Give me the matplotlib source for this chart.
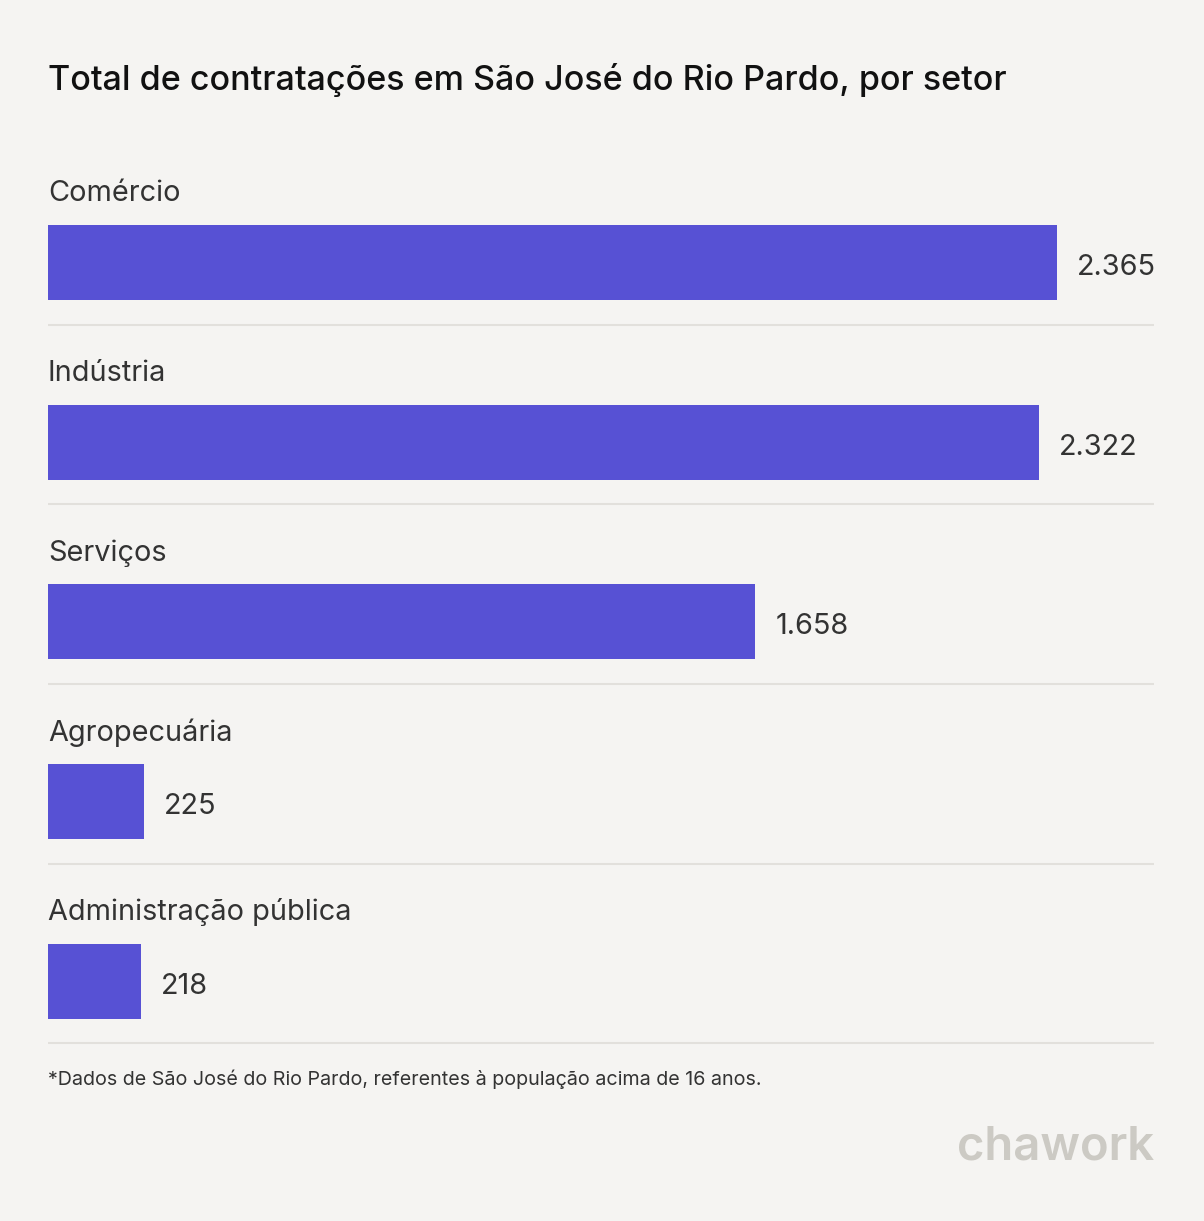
import matplotlib
matplotlib.use("Agg")
import matplotlib.pyplot as plt

categories = ["Comércio", "Indústria", "Serviços", "Agropecuária", "Administração pública"]
values = [2365, 2322, 1658, 225, 218]
value_labels = ["2.365", "2.322", "1.658", "225", "218"]
title = "Total de contratações em São José do Rio Pardo, por setor"
footnote = "*Dados de São José do Rio Pardo, referentes à população acima de 16 anos."

W, H = 1204, 1221
BG = "#F5F4F2"
BAR = "#5751D4"
TXT = "#333333"
LINE = "#E2E0DC"

plt.rcParams['font.family'] = ['Inter', 'DejaVu Sans']

fig = plt.figure(figsize=(W / 100, H / 100), dpi=100, facecolor=BG)

left_px, right_px = 48, 1154
ax = fig.add_axes([left_px / W, 0, (right_px - left_px) / W, 1])
ax.set_facecolor(BG)
xmax = values[0] * (right_px - left_px) / (1057 - left_px)
ax.set_xlim(0, xmax)
ax.set_ylim(H, 0)
ax.axis('off')

row0 = 262.5
step = 179.7
bar_h = 75
px_per_unit = xmax / (right_px - left_px)

for i, (cat, v, lab) in enumerate(zip(categories, values, value_labels)):
    yc = row0 + i * step
    ax.barh(yc, v, height=bar_h, color=BAR, left=0)
    ax.text(0, yc - 69, cat, fontsize=20.8, color=TXT, va='center', ha='left')
    ax.text(v + 20 * px_per_unit, yc + 5, lab, fontsize=20.8, color=TXT, va='center', ha='left')
    ax.axhline(yc + 62, color=LINE, lw=1.5, xmin=0, xmax=1)

fig.text(48 / W, 1 - 80 / H, title, fontsize=24.5, fontweight='medium', color='#111111',
         va='center', ha='left')
fig.text(48 / W, 1 - 1079 / H, footnote, fontsize=14.2, color=TXT, va='center', ha='left')
fig.text(1154 / W, 1 - 1147 / H, "chawork", fontsize=34, fontweight='semibold', color='#CCCAC4',
         va='center', ha='right')

fig.savefig("out.png", dpi=100, facecolor=BG)
